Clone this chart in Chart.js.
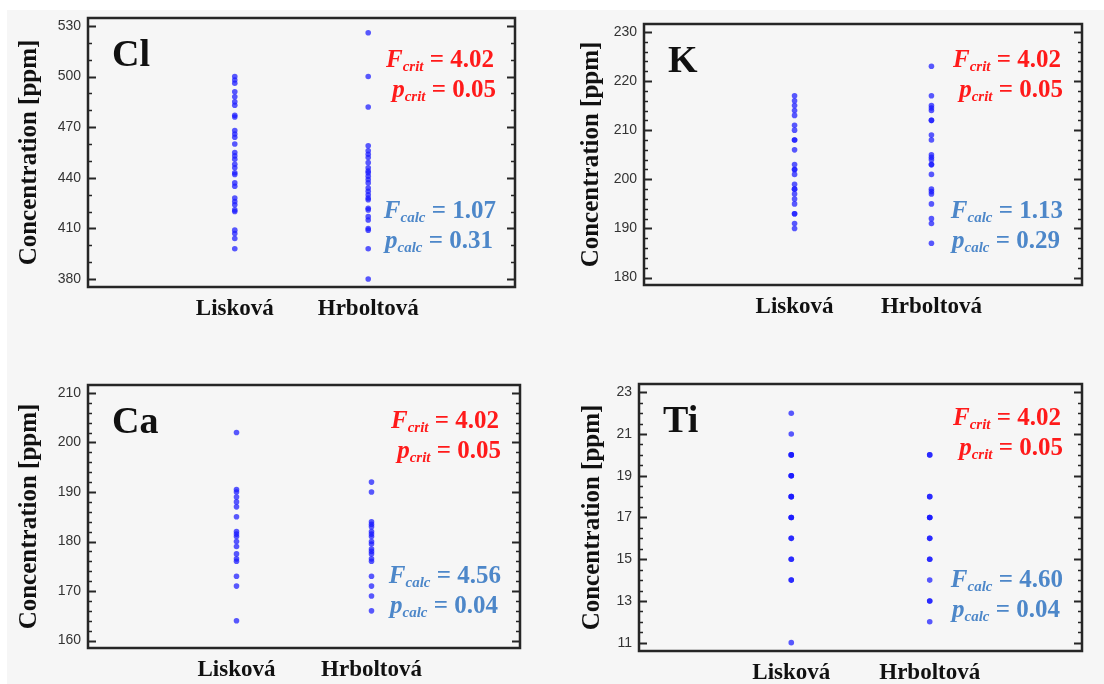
<!DOCTYPE html>
<html>
<head>
<meta charset="utf-8">
<script src="https://cdn.jsdelivr.net/npm/chart.js@4.4.1/dist/chart.umd.min.js"></script>
<style>
    body { margin: 0; background: #fff; width: 1104px; height: 684px; overflow: hidden; position: relative; }
    #bg { position: absolute; left: 7px; top: 10px; right: 0; bottom: 0; background: #f6f6f6; }
    .panel { position: absolute; }
</style>
</head>
<body>
<div id="bg"></div>
<canvas id="chartCl" class="panel" width="552" height="335" style="left:0;top:0"></canvas>
<canvas id="chartK" class="panel" width="552" height="335" style="left:552px;top:0"></canvas>
<canvas id="chartCa" class="panel" width="552" height="339" style="left:0;top:345px"></canvas>
<canvas id="chartTi" class="panel" width="552" height="339" style="left:552px;top:345px"></canvas>
<script>
// categories (x = 1, x = 2)
const sites = ["Lisková", "Hrboltová"];

// Cl [ppm]
const clLiskova = [500, 498, 496, 491, 488, 485, 483, 477, 476, 468, 466, 464, 460, 455, 453, 451, 448, 446, 443, 442, 437, 435, 428, 426, 424, 421, 420, 409, 407, 404, 398];
const clHrboltova = [526, 500, 482, 459, 456, 454, 452, 449, 446, 444, 443, 441, 439, 437, 434, 432, 430, 428, 427, 422, 421, 417, 415, 410, 409, 398, 380];
const clTicks = [380, 410, 440, 470, 500, 530];

// K [ppm]
const kLiskova = [217, 216, 215, 214, 213, 211, 210, 208, 208, 206, 203, 202, 202, 201, 199, 198, 198, 197, 196, 195, 193, 193, 191, 190];
const kHrboltova = [223, 217, 215, 214.5, 214, 212, 212, 209, 208, 205, 204.5, 204, 203, 203, 201, 198, 197.5, 197, 195, 192, 191, 187];
const kTicks = [180, 190, 200, 210, 220, 230];

// Ca [ppm]
const caLiskova = [202, 190.5, 190, 189, 188, 187, 185, 182, 181.5, 181, 180, 179, 177.5, 176.5, 176, 173, 171, 164];
const caHrboltova = [192, 190, 184, 183.5, 183, 182, 181.5, 181, 180, 179.5, 178.5, 178, 177.5, 176.5, 176, 173, 171, 169, 166];
const caTicks = [160, 170, 180, 190, 200, 210];

// Ti [ppm]
const tiLiskova = [22, 21, 20, 20, 20, 19, 19, 19, 18, 18, 18, 17, 17, 17, 16, 16, 15, 15, 14, 14, 11];
const tiHrboltova = [20, 20, 18, 18, 17, 17, 17, 16, 16, 15, 15, 14, 13, 13, 12];
const tiTicks = [11, 13, 15, 17, 19, 21, 23];

// ANOVA results
const fCrit = 4.02;
const pCrit = 0.05;
const fCalc = [1.07, 1.13, 4.56, 4.60];
const pCalc = [0.31, 0.29, 0.04, 0.04];

const serif = "'Liberation Serif', 'Times New Roman', serif";
const RED = "#ff1a1a";
const BLUE = "#4d87c9";

function drawStat(ctx, main, sub, rest, right, base, color) {
    ctx.font = "italic bold 25px " + serif;
    const w1 = ctx.measureText(main).width;
    ctx.font = "italic bold 15px " + serif;
    const w2 = ctx.measureText(sub).width;
    ctx.font = "bold 25px " + serif;
    const w3 = ctx.measureText(rest).width;
    let x = right - (w1 + w2 + w3);
    ctx.fillStyle = color;
    ctx.textAlign = "left";
    ctx.textBaseline = "alphabetic";
    ctx.font = "italic bold 25px " + serif;
    ctx.fillText(main, x, base);
    x += w1;
    ctx.font = "italic bold 15px " + serif;
    ctx.fillText(sub, x, base + 4);
    x += w2;
    ctx.font = "bold 25px " + serif;
    ctx.fillText(rest, x, base);
}

const panelDecor = {
    id: "panelDecor",
    afterDraw(chart, args, opts) {
        const ctx = chart.ctx;
        const a = chart.chartArea;
        const y = chart.scales.y;
        ctx.save();
        ctx.strokeStyle = "#262626";
        // ticks on the left and right edges, pointing inward
        const start = Math.ceil(y.min / opts.minorStep);
        const end = Math.floor(y.max / opts.minorStep);
        for (let i = start; i <= end; i++) {
            const v = i * opts.minorStep;
            const py = Math.round(y.getPixelForValue(v)) + 0.5;
            const major = opts.majorTicks.some((t) => Math.abs(t - v) < 1e-6);
            const len = major ? 8 : 4;
            ctx.lineWidth = major ? 2 : 1.3;
            ctx.beginPath();
            ctx.moveTo(a.left, py);
            ctx.lineTo(a.left + len, py);
            ctx.moveTo(a.right, py);
            ctx.lineTo(a.right - len, py);
            ctx.stroke();
        }
        // frame
        ctx.lineWidth = 2.5;
        ctx.strokeRect(a.left, a.top, a.width, a.height);

        // element label
        ctx.fillStyle = "#111";
        ctx.font = "bold 38px " + serif;
        ctx.textAlign = "left";
        ctx.textBaseline = "alphabetic";
        ctx.fillText(opts.label, a.left + 24, a.top + 48);

        const g = opts.geo;
        drawStat(ctx, "F", "crit", " = " + fCrit.toFixed(2), a.right - 21, a.top + g.crit, RED);
        drawStat(ctx, "p", "crit", " = " + pCrit.toFixed(2), a.right - 19, a.top + g.crit + 30, RED);
        drawStat(ctx, "F", "calc", " = " + opts.fCalc.toFixed(2), a.right - 19, a.bottom - g.calc, BLUE);
        drawStat(ctx, "p", "calc", " = " + opts.pCalc.toFixed(2), a.right - 22, a.bottom - g.calc + 30, BLUE);
        ctx.restore();
    },
};

function makePanel(id, geo, liskova, hrboltova, ticks, range, minorStep, label, idx) {
    const canvas = document.getElementById(id);
    return new Chart(canvas.getContext("2d"), {
        type: "scatter",
        data: {
            datasets: [
                {
                    label: sites[0],
                    data: liskova.map((v) => ({ x: 1, y: v })),
                },
                {
                    label: sites[1],
                    data: hrboltova.map((v) => ({ x: 2, y: v })),
                },
            ],
        },
        options: {
            responsive: false,
            animation: false,
            layout: {
                padding: { left: 0, top: geo.top, right: canvas.width - geo.right, bottom: 0 },
            },
            elements: {
                point: {
                    radius: 2.8,
                    backgroundColor: "rgba(25, 25, 255, 0.72)",
                    borderWidth: 0,
                },
            },
            plugins: {
                legend: { display: false },
                tooltip: { enabled: false },
                panelDecor: {
                    label: label,
                    fCalc: fCalc[idx],
                    pCalc: pCalc[idx],
                    minorStep: minorStep,
                    majorTicks: ticks,
                    geo: geo,
                },
            },
            scales: {
                x: {
                    type: "linear",
                    min: -0.1,
                    max: 3.1,
                    grid: { display: false, drawTicks: false },
                    border: { display: false },
                    afterBuildTicks: (scale) => {
                        scale.ticks = sites.map((s, i) => ({ value: i + 1 }));
                    },
                    afterFit: (scale) => {
                        scale.height = canvas.height - geo.bottom;
                    },
                    ticks: {
                        autoSkip: false,
                        maxRotation: 0,
                        padding: 8,
                        color: "#111",
                        font: { family: serif, size: 23, weight: "bold" },
                        callback: (v) => sites[v - 1],
                    },
                },
                y: {
                    min: range[0],
                    max: range[1],
                    grid: { display: false, drawTicks: false },
                    border: { display: false },
                    afterBuildTicks: (scale) => {
                        scale.ticks = ticks.map((v) => ({ value: v }));
                    },
                    afterFit: (scale) => {
                        scale.width = geo.left;
                    },
                    ticks: {
                        padding: 7,
                        color: "#333",
                        font: { family: "'Liberation Sans', Arial, sans-serif", size: 14 },
                    },
                    title: {
                        display: true,
                        text: "Concentration [ppm]",
                        color: "#111",
                        padding: { top: geo.titlePad, bottom: 0 },
                        font: { family: serif, size: 25, weight: "bold" },
                    },
                },
            },
        },
        plugins: [panelDecor],
    });
}

makePanel("chartCl", { left: 88, top: 18, right: 515, bottom: 287, titlePad: 15, crit: 49, calc: 69 },
    clLiskova, clHrboltova, clTicks, [375.3, 534.7], 10, "Cl", 0);
makePanel("chartK", { left: 92, top: 24, right: 530, bottom: 285, titlePad: 25, crit: 43, calc: 67 },
    kLiskova, kHrboltova, kTicks, [178.5, 231.6], 2, "K", 1);
makePanel("chartCa", { left: 88, top: 40, right: 520, bottom: 303, titlePad: 15, crit: 43, calc: 65 },
    caLiskova, caHrboltova, caTicks, [158.5, 211.6], 2, "Ca", 2);
makePanel("chartTi", { left: 87, top: 39, right: 530, bottom: 306, titlePad: 26, crit: 41, calc: 64 },
    tiLiskova, tiHrboltova, tiTicks, [10.6, 23.4], 0.5, "Ti", 3);
</script>
</body>
</html>
